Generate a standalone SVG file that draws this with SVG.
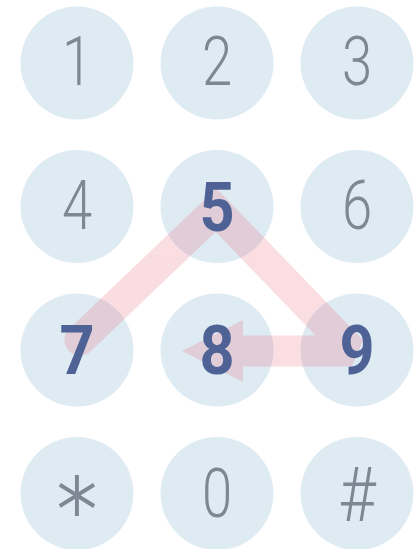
<svg xmlns="http://www.w3.org/2000/svg" width="415" height="549" viewBox="0 0 415 549">
<style>
.key{fill:#dfebf3}
.t{font-family:Roboto,"Liberation Sans",sans-serif;font-weight:300;font-size:68px;fill:#7f8794;text-anchor:middle}
.b{font-family:Roboto,"Liberation Sans",sans-serif;font-weight:700;font-size:68px;fill:#4f6296;text-anchor:middle}
</style>
<rect width="415" height="549" fill="#ffffff"/>
<g id="key-1"><circle class="key" cx="77" cy="63" r="56.5"/></g>
<g id="key-2"><circle class="key" cx="217" cy="63" r="56.5"/></g>
<g id="key-3"><circle class="key" cx="357" cy="63" r="56.5"/></g>
<g id="key-4"><circle class="key" cx="77" cy="206.5" r="56.5"/></g>
<g id="key-5"><circle class="key" cx="217" cy="206.5" r="56.5"/></g>
<g id="key-6"><circle class="key" cx="357" cy="206.5" r="56.5"/></g>
<g id="key-7"><circle class="key" cx="77" cy="350" r="56.5"/></g>
<g id="key-8"><circle class="key" cx="217" cy="350" r="56.5"/></g>
<g id="key-9"><circle class="key" cx="357" cy="350" r="56.5"/></g>
<g id="key-star"><circle class="key" cx="77" cy="493.5" r="56.5"/></g>
<g id="key-0"><circle class="key" cx="217" cy="493.5" r="56.5"/></g>
<g id="key-hash"><circle class="key" cx="357" cy="493.5" r="56.5"/></g>
<g id="connectors" opacity="0.18">
<path d="M80 340 L216 210 L352 351 L240 351" fill="none" stroke="#e8485c" stroke-width="31" stroke-linecap="round" stroke-linejoin="miter" stroke-miterlimit="2"/>
<polygon points="243,320 182,351 243,382" fill="#e8485c"/>
</g>
<g id="labels">
<text class="t" transform="translate(77,85) scale(0.8,1)">1</text>
<text class="t" transform="translate(217,85) scale(0.8,1)">2</text>
<text class="t" transform="translate(357,85) scale(0.8,1)">3</text>
<text class="t" transform="translate(77,229) scale(0.8,1)">4</text>
<text class="b" transform="translate(217,231) scale(0.9,1)">5</text>
<text class="t" transform="translate(357,229) scale(0.8,1)">6</text>
<text class="b" transform="translate(77,374) scale(0.9,1)">7</text>
<text class="b" transform="translate(217,374) scale(0.9,1)">8</text>
<text class="b" transform="translate(357,374) scale(0.9,1)">9</text>
<text class="t" style="font-family:'DejaVu Sans',sans-serif;font-size:86px;font-weight:200;stroke:#7f8794;stroke-width:2.2" transform="translate(77,540) scale(0.92,1)">*</text>
<text class="t" transform="translate(217,517) scale(0.8,1)">0</text>
<text class="t" style="font-size:76px" transform="translate(357,521) scale(0.85,1)">#</text>
</g>
</svg>
